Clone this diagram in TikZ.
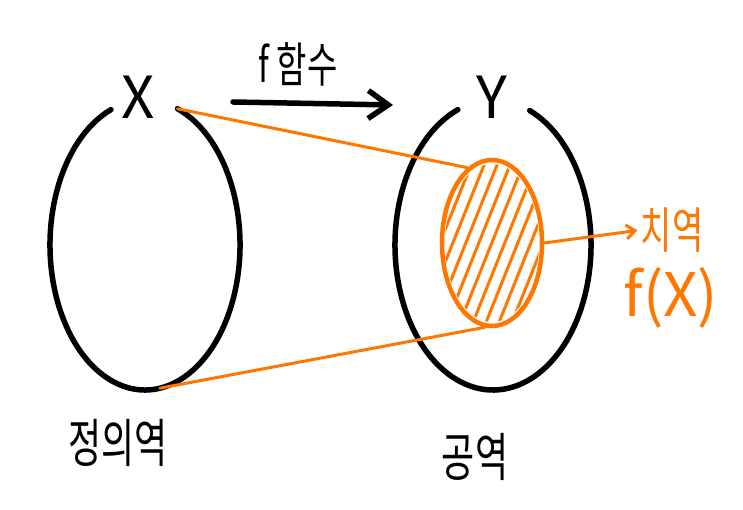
\documentclass[tikz,border=0pt]{standalone}
\usepackage{fontspec}
\setmainfont{Noto Sans CJK KR}
\usetikzlibrary{calc,arrows.meta,shapes.geometric}
\definecolor{imgorange}{RGB}{255,119,0}
\def\centerellarc[#1](#2)(#3:#4:#5:#6){\draw[#1] ($(#2)+(#3:#5 and #6)$) arc (#3:#4:#5 and #6);}
\newcommand{\tallhand}[1]{\scalebox{1}[1.45]{#1}}

\begin{document}
\begin{tikzpicture}[x=1pt,y=1pt,
		setline/.style={line width=5.5pt, line cap=round},
		mapline/.style={imgorange, line width=3pt, line cap=round},
		hatch/.style={imgorange, line width=3pt, line cap=round},
		lbl/.style={inner sep=0pt, font=\fontsize{34}{40}\selectfont},
		bigletter/.style={inner sep=0pt, font=\fontsize{58}{64}\selectfont}]
			%%%%% START %%%%%
			\useasboundingbox (0,0) rectangle (743,510);
			
			\centerellarc[setline](145,265)(70:-249:95:145);
			\centerellarc[setline](493,265)(68:-249:98:145);
			\coordinate (xtop) at ($(145,265)+(70:95 and 145)$);
			\coordinate (xbot) at ($(145,265)+(-81:95 and 145)$);
			
			\node[bigletter] (X) at (138,413) {X};
			\node[bigletter] (Y) at (492,413) {Y};
			
			\node[draw=imgorange, line width=4.5pt, ellipse, inner sep=0pt,
				minimum width=100pt, minimum height=166pt] (img) at (492,267) {};
			\begin{scope}
				\clip (492,267) ellipse (47 and 79);
				\foreach \dx in {-104,-91,...,104}
					\draw[hatch] (492+\dx-35,180) -- (492+\dx+35,355);
			\end{scope}
			
			\draw[mapline] (xtop) -- (img.108);
			\draw[mapline] (xbot) -- (img.265);
			
			\node[lbl, text=imgorange, font=\fontsize{34}{40}\selectfont] (rng) at (672,280) {\tallhand{치역}};
			\node[lbl, text=imgorange, font=\fontsize{60}{66}\selectfont] (fx) at (671,212) {f(X)};
			\draw[mapline, shorten >=3pt, -{Straight Barb[length=9pt,width=14pt]}] (img.east) -- (rng.west);
			
			\node[lbl, font=\fontsize{33}{40}\selectfont] (fname) at (298,446) {\tallhand{f 함수}};
			\coordinate (fs) at (233,408);
			\coordinate (fe) at (393,405);
			\draw[setline, -{Straight Barb[length=20pt,width=28pt]}] (fs) -- (fe);
			
			\node[lbl, font=\fontsize{36}{40}\selectfont] (dom) at (118,67) {\tallhand{정의역}};
			\node[lbl, font=\fontsize{36}{40}\selectfont] (cod) at (475,53) {\tallhand{공역}};
			%%%%% END %%%%%
\end{tikzpicture}
\end{document}
